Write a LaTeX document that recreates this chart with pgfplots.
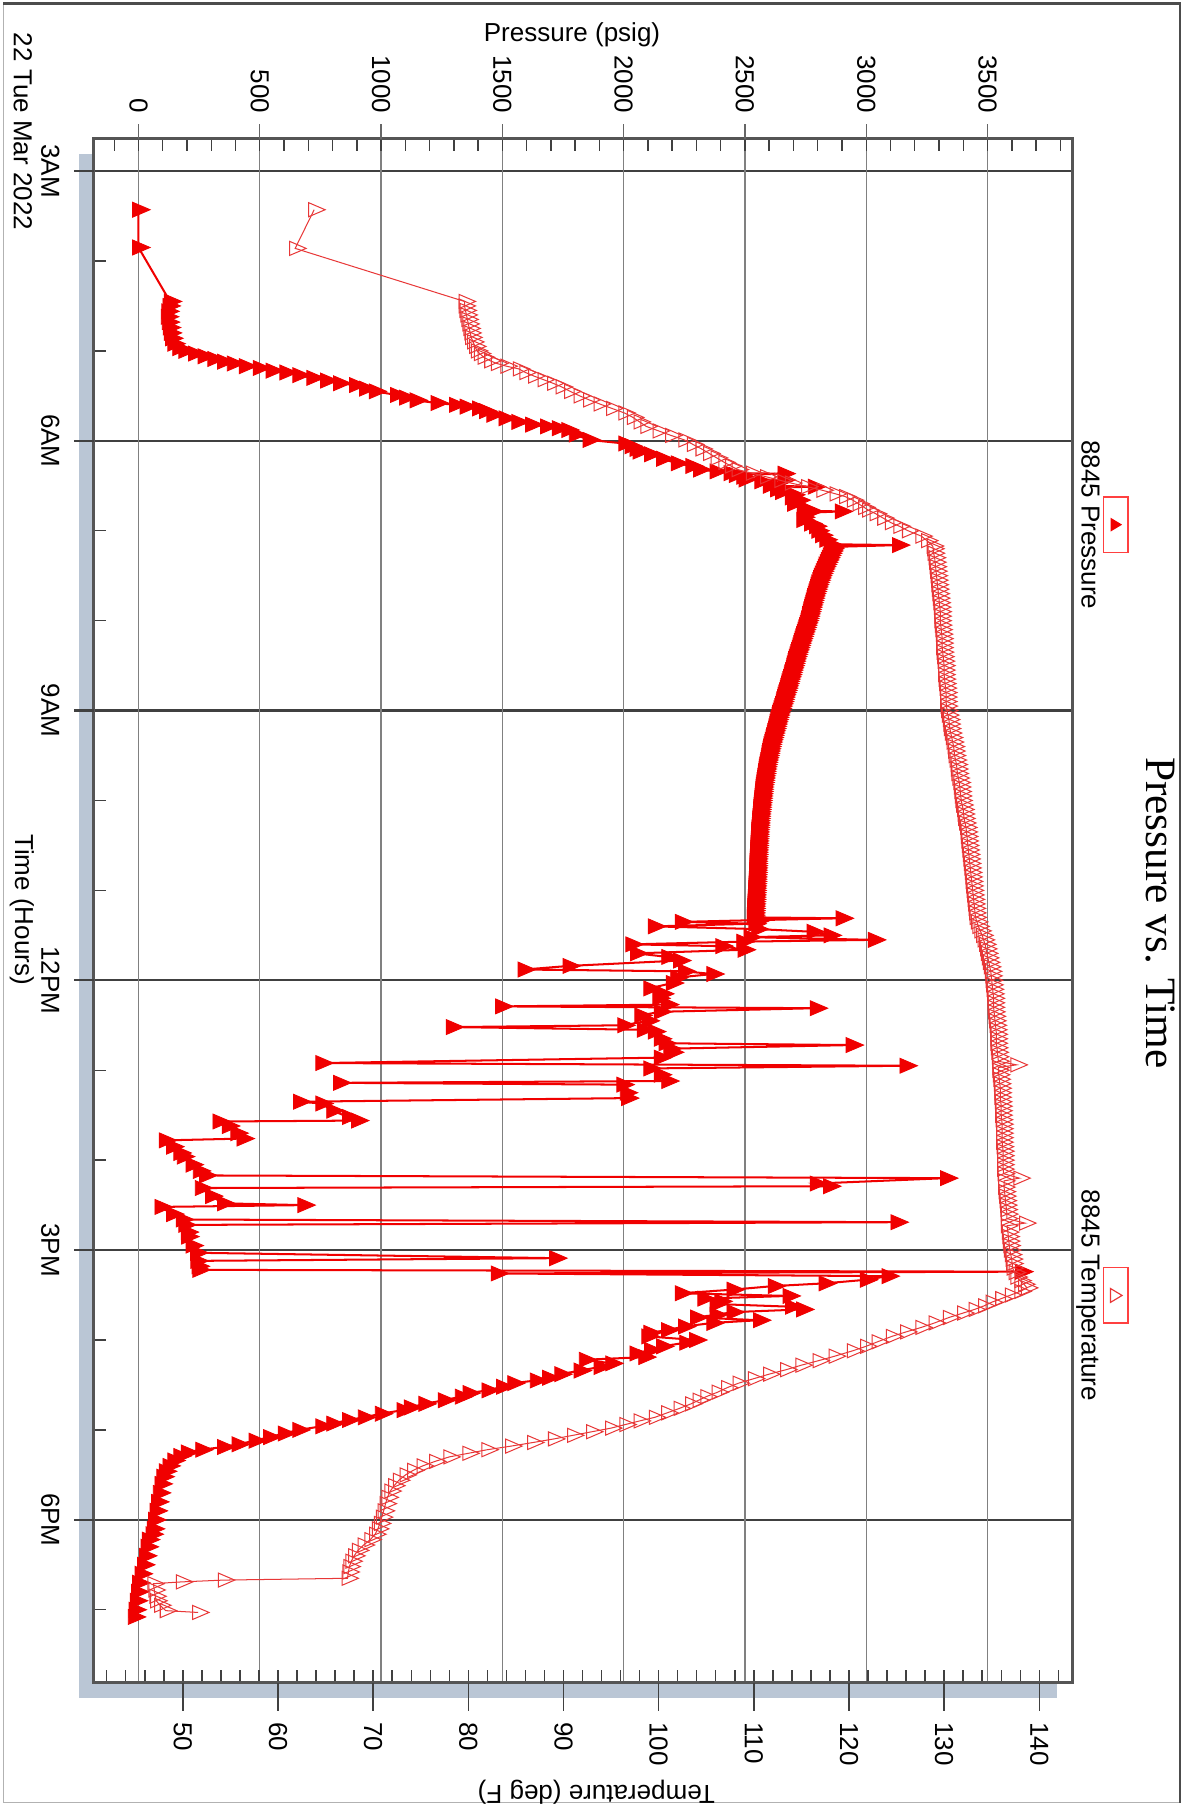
\documentclass[border=0pt]{standalone}
\usepackage{graphicx}
\usepackage{pgfplots}
\pgfplotsset{compat=1.18}
\usepackage{fontspec}
\setmainfont{Liberation Sans}
\newfontfamily\titlefont{Liberation Serif}
\definecolor{shadowc}{RGB}{186,198,213}
\definecolor{pres}{RGB}{240,0,0}
\definecolor{tempc}{RGB}{232,55,55}
\definecolor{framec}{RGB}{85,85,85}
\newsavebox\chartbox
\begin{document}
\begin{lrbox}{\chartbox}%
\begin{tikzpicture}
\useasboundingbox (0,0) rectangle (627.2pt,415.2pt);
\begin{scope}[x=0.4pt,y=0.4pt]
\draw[black!30, line width=0.5pt] (3,3) -- (1560,3) -- (1560,1021);
\draw[black!70, line width=0.8pt] (3,3) -- (3,1021) -- (1560,1021);
\fill[shadowc] (133,68) rectangle (1469,915);
\end{scope}
% ---------------- pressure axis ----------------
\begin{axis}[
  at={(48pt,32.4pt)}, anchor=south west,
  scale only axis, width=534.4pt, height=338.8pt,
  xmin=2.64, xmax=19.81, ymin=-185, ymax=3850,
  axis background/.style={fill=white},
  clip=false,
  xtick={3,6,9,12,15,18},
  xticklabels={3AM,6AM,9AM,12PM,3PM,6PM},
  minor xtick={4,5,7,8,10,11,13,14,16,17,19},
  ytick={0,500,...,3500},
  minor ytick={-100,0,...,3800},
  xtick pos=bottom, ytick pos=left,
  tick align=inside,
  major tick length=4.2pt, minor tick length=4.2pt,
  tick style={black!75, line width=0.5pt},
  xmajorgrids, ymajorgrids,
  major x grid style={black!75, line width=0.8pt},
  major y grid style={black!50, line width=0.5pt},
  axis line style={framec, line width=0.9pt},
  /pgf/number format/1000 sep={},
  /pgf/number format/assume math mode=true,
  ticklabel style={font=\fontsize{9}{10}\selectfont},
  yticklabel style={anchor=east, inner sep=0pt, xshift=-8.6pt},
  xticklabel style={anchor=north, inner sep=0pt, yshift=-11.6pt},
]
\pgfplotsinvokeforeach{3,6,9,12,15,18}{\draw[black!75, line width=0.8pt] (axis cs:#1,-185) -- ++(0pt,-6.8pt);}
\pgfplotsinvokeforeach{0,500,1000,1500,2000,2500,3000,3500}{\draw[black!60, line width=0.5pt] (axis cs:2.64,#1) -- ++(-5.2pt,0pt);}
\addplot[pres, line width=0.7pt, mark=triangle*, mark size=3.5pt,
  mark options={fill=pres, draw=pres, solid, line width=0.3pt, xscale=0.85, yscale=1.15}] table {
t P
3.43 0
3.85 0
4.45 130
4.50 125
4.56 120
4.62 118
4.68 122
4.74 126
4.80 130
4.86 136
4.92 145
4.97 165
5.00 190
5.03 230
5.06 270
5.09 310
5.12 350
5.14 390
5.17 440
5.19 497
5.22 550
5.24 607
5.27 660
5.30 718
5.33 775
5.36 828
5.38 894
5.42 935
5.45 975
5.49 1063
5.52 1100
5.55 1144
5.58 1230
5.60 1306
5.62 1350
5.64 1401
5.67 1430
5.71 1460
5.75 1510
5.79 1563
5.82 1620
5.84 1681
5.86 1730
5.88 1769
5.93 1800
5.99 1857
6.03 2004
6.06 2030
6.09 2050
6.12 2063
6.15 2110
6.20 2160
6.25 2220
6.28 2280
6.32 2312
6.34 2380
6.36 2438
6.365 2660
6.38 2460
6.40 2490
6.43 2500
6.435 2660
6.45 2565
6.50 2600
6.51 2785
6.52 2640
6.54 2630
6.57 2650
6.60 2700
6.63 2690
6.66 2722
6.70 2700
6.75 2740
6.78 2770
6.785 2896
6.80 2760
6.85 2740
6.88 2738
6.92 2770
6.95 2790
7.00 2800
7.05 2815
7.10 2833
7.15 2850
7.16 3132
7.18 2862
7.20 2860
7.225 2856
7.25 2852
7.275 2847
7.30 2843
7.325 2839
7.35 2835
7.375 2830
7.40 2826
7.425 2822
7.45 2818
7.475 2814
7.50 2810
7.525 2807
7.55 2804
7.575 2800
7.60 2797
7.625 2794
7.65 2791
7.675 2788
7.70 2785
7.725 2782
7.75 2780
7.775 2777
7.80 2775
7.825 2772
7.85 2770
7.875 2767
7.90 2765
7.925 2762
7.95 2760
7.975 2757
8.00 2755
8.025 2752
8.05 2749
8.075 2746
8.10 2743
8.125 2740
8.15 2737
8.175 2734
8.20 2731
8.225 2728
8.25 2725
8.275 2722
8.30 2719
8.325 2716
8.35 2713
8.375 2710
8.40 2707
8.425 2704
8.45 2702
8.475 2699
8.50 2697
8.525 2694
8.55 2691
8.575 2688
8.60 2686
8.625 2683
8.65 2680
8.675 2677
8.70 2675
8.725 2672
8.75 2670
8.775 2667
8.80 2664
8.825 2661
8.85 2658
8.875 2655
8.90 2653
8.925 2650
8.95 2647
8.975 2644
9.00 2641
9.025 2638
9.05 2636
9.075 2633
9.10 2631
9.125 2628
9.15 2626
9.175 2623
9.20 2621
9.225 2618
9.25 2616
9.275 2613
9.30 2611
9.325 2608
9.35 2606
9.375 2603
9.40 2601
9.425 2599
9.45 2597
9.475 2595
9.50 2593
9.525 2591
9.55 2589
9.575 2587
9.60 2585
9.625 2583
9.65 2582
9.675 2580
9.70 2579
9.725 2577
9.75 2576
9.775 2574
9.80 2573
9.825 2571
9.85 2570
9.875 2569
9.90 2568
9.925 2567
9.95 2566
9.975 2565
10.00 2564
10.025 2563
10.05 2562
10.075 2561
10.10 2560
10.125 2559
10.15 2558
10.175 2557
10.20 2556
10.225 2555
10.25 2555
10.275 2554
10.30 2553
10.325 2552
10.35 2552
10.375 2551
10.40 2551
10.425 2550
10.45 2550
10.475 2549
10.50 2549
10.525 2548
10.55 2548
10.575 2547
10.60 2547
10.625 2546
10.65 2546
10.675 2545
10.70 2545
10.725 2545
10.75 2545
10.775 2544
10.80 2544
10.825 2543
10.85 2543
10.875 2542
10.90 2542
10.925 2541
10.95 2541
10.975 2540
11.00 2540
11.025 2539
11.05 2539
11.075 2538
11.10 2538
11.125 2537
11.15 2537
11.175 2536
11.20 2536
11.225 2535
11.25 2535
11.275 2534
11.30 2534
11.31 2900
11.33 2560
11.35 2237
11.37 2540
11.40 2126
11.43 2550
11.46 2780
11.50 2850
11.52 2520
11.55 3033
11.57 2490
11.60 2033
11.62 2404
11.66 2496
11.70 2052
11.74 2181
11.78 2230
11.84 1774
11.88 1589
11.90 2250
11.93 2367
11.97 2218
12.03 2200
12.09 2107
12.15 2160
12.20 2144
12.27 2180
12.29 1496
12.31 2793
12.35 2150
12.39 2070
12.45 2100
12.50 2000
12.52 1293
12.55 2080
12.57 2126
12.65 2150
12.70 2170
12.72 2941
12.76 2190
12.80 2200
12.86 2150
12.92 755
12.95 3163
12.98 2107
13.05 2150
13.12 2181
13.14 828
13.16 1996
13.25 2010
13.31 2015
13.35 663
13.37 755
13.45 800
13.52 865
13.56 902
13.57 331
13.62 370
13.70 405
13.76 430
13.78 110
13.85 140
13.92 170
13.96 184
14.05 220
14.12 250
14.17 276
14.20 3330
14.26 2793
14.29 2848
14.31 258
14.40 300
14.48 350
14.50 681
14.52 92
14.60 140
14.66 180
14.69 3126
14.72 190
14.80 200
14.85 202
14.95 220
15.03 239
15.09 1719
15.12 240
15.18 245
15.22 248
15.24 3640
15.26 1478
15.29 3089
15.33 3000
15.37 2830
15.40 2620
15.44 2450
15.48 2237
15.51 2681
15.54 2330
15.57 2400
15.60 2380
15.63 2691
15.66 2737
15.69 2450
15.72 2380
15.75 2300
15.78 2559
15.81 2367
15.85 2250
15.89 2180
15.92 2107
15.96 2099
16.00 2296
16.03 2255
16.07 2160
16.11 2110
16.15 2050
16.19 2086
16.22 1841
16.26 1950
16.30 1902
16.34 1820
16.38 1740
16.42 1690
16.45 1639
16.48 1546
16.52 1500
16.56 1440
16.59 1362
16.63 1330
16.67 1260
16.71 1180
16.75 1120
16.78 1090
16.82 1000
16.86 930
16.89 865
16.93 800
16.96 755
17.00 660
17.04 600
17.08 540
17.12 480
17.16 410
17.19 350
17.22 260
17.25 200
17.29 170
17.34 145
17.40 125
17.46 110
17.52 100
17.60 92
17.70 85
17.80 78
17.90 72
18.00 66
18.10 60
18.16 55
18.22 40
18.30 35
18.40 28
18.50 20
18.60 10
18.70 0
18.80 -5
18.90 -10
19.00 -15
19.08 -18
};
\end{axis}
% ---------------- temperature axis ----------------
\begin{axis}[
  at={(48pt,32.4pt)}, anchor=south west,
  scale only axis, width=534.4pt, height=338.8pt,
  xmin=2.64, xmax=19.81, ymin=40.62, ymax=143.48,
  clip=false,
  axis x line=none,
  axis y line*=right,
  ytick={50,60,...,140},
  minor ytick={42,44,...,142},
  tick align=inside,
  major tick length=4.2pt, minor tick length=4.2pt,
  tick style={black!75, line width=0.5pt},
  axis line style={framec, line width=0.9pt},
  /pgf/number format/assume math mode=true,
  ticklabel style={font=\fontsize{9}{10}\selectfont},
  yticklabel style={anchor=west, inner sep=0pt, xshift=13.6pt},
]
\pgfplotsinvokeforeach{50,60,70,80,90,100,110,120,130,140}{\draw[black!75, line width=0.5pt] (axis cs:19.81,#1) -- ++(9.8pt,0pt);}
\addplot[tempc, line width=0.35pt, mark=triangle, mark size=3.3pt,
  mark options={draw=tempc, solid, line width=0.35pt, xscale=0.85, yscale=1.15}] table {
t T
3.43 63.8
3.86 61.8
4.45 79.6
4.50 79.6
4.55 79.7
4.60 79.8
4.65 79.9
4.70 80.0
4.75 80.1
4.80 80.2
4.85 80.3
4.90 80.5
4.95 80.7
5.00 80.9
5.03 81.2
5.07 81.6
5.11 82.3
5.14 83.0
5.17 84.0
5.20 85.3
5.24 86.0
5.28 86.9
5.32 87.9
5.36 88.9
5.40 89.8
5.45 90.7
5.50 91.7
5.545 92.7
5.59 93.8
5.64 95.1
5.69 96.4
5.74 97.3
5.79 98.0
5.84 98.7
5.89 100.0
5.94 101.3
5.99 102.7
6.04 103.6
6.09 104.5
6.14 105.3
6.19 106.1
6.24 106.9
6.28 107.6
6.32 108.3
6.36 109.8
6.40 111.3
6.44 112.8
6.47 113.9
6.51 115.6
6.55 117.2
6.59 118.6
6.62 119.6
6.66 120.4
6.70 121.0
6.74 121.6
6.77 122.0
6.81 122.8
6.86 123.6
6.91 124.4
6.95 125.3
7.00 126.2
7.06 127.6
7.11 128.2
7.17 128.8
7.20 128.85
7.25 128.9
7.30 129.0
7.35 129.05
7.40 129.1
7.45 129.15
7.50 129.2
7.55 129.25
7.60 129.3
7.65 129.35
7.70 129.4
7.75 129.45
7.80 129.5
7.85 129.55
7.90 129.6
7.95 129.6
8.00 129.6
8.05 129.65
8.10 129.7
8.15 129.75
8.20 129.8
8.25 129.8
8.30 129.8
8.35 129.85
8.40 129.9
8.45 129.95
8.50 130.0
8.55 130.0
8.60 130.0
8.65 130.05
8.70 130.1
8.75 130.15
8.80 130.2
8.85 130.2
8.90 130.2
8.95 130.25
9.00 130.3
9.05 130.4
9.10 130.5
9.15 130.55
9.20 130.6
9.25 130.7
9.30 130.8
9.35 130.9
9.40 131.0
9.45 131.05
9.50 131.1
9.55 131.2
9.60 131.3
9.65 131.35
9.70 131.4
9.75 131.5
9.80 131.6
9.85 131.65
9.90 131.7
9.95 131.75
10.00 131.8
10.05 131.9
10.10 132.0
10.15 132.05
10.20 132.1
10.25 132.2
10.30 132.3
10.35 132.35
10.40 132.4
10.45 132.45
10.50 132.5
10.55 132.55
10.60 132.6
10.65 132.65
10.70 132.7
10.75 132.75
10.80 132.8
10.85 132.85
10.90 132.9
10.95 132.95
11.00 133.0
11.05 133.05
11.10 133.1
11.15 133.15
11.20 133.2
11.25 133.25
11.30 133.3
11.35 133.45
11.40 133.6
11.45 133.8
11.50 134.0
11.55 134.15
11.60 134.3
11.65 134.4
11.70 134.5
11.75 134.6
11.80 134.7
11.85 134.8
11.90 134.9
11.95 134.95
12.00 135.0
12.05 135.05
12.10 135.1
12.15 135.15
12.20 135.2
12.25 135.2
12.30 135.2
12.35 135.25
12.40 135.3
12.45 135.35
12.50 135.4
12.55 135.45
12.60 135.5
12.65 135.5
12.70 135.5
12.75 135.55
12.80 135.6
12.85 135.65
12.90 135.7
12.94 137.6
12.97 135.7
13.00 135.7
13.05 135.75
13.10 135.8
13.15 135.85
13.20 135.9
13.25 135.9
13.30 135.9
13.35 135.95
13.40 136.0
13.45 136.0
13.50 136.0
13.55 136.05
13.60 136.1
13.65 136.1
13.70 136.1
13.75 136.1
13.80 136.1
13.85 136.15
13.90 136.2
13.95 136.2
14.00 136.2
14.05 136.2
14.10 136.2
14.15 136.25
14.20 137.9
14.23 136.3
14.30 136.3
14.35 136.35
14.40 136.4
14.45 136.45
14.50 136.5
14.55 136.55
14.60 136.6
14.65 136.6
14.70 138.5
14.73 136.6
14.80 136.7
14.85 136.75
14.90 136.8
14.95 136.85
15.00 136.9
15.05 137.0
15.10 137.1
15.15 137.15
15.20 137.2
15.25 137.4
15.30 137.6
15.34 138.0
15.38 138.4
15.42 138.7
15.46 138.0
15.50 137.0
15.54 136.0
15.58 135.0
15.62 134.2
15.66 133.2
15.70 132.0
15.75 130.5
15.81 129.0
15.86 127.6
15.91 126.0
15.96 124.5
16.02 123.0
16.07 121.8
16.12 120.4
16.18 118.5
16.23 116.8
16.28 115.0
16.33 113.4
16.38 111.6
16.43 110.0
16.48 108.4
16.53 107.2
16.58 106.2
16.63 105.0
16.67 104.2
16.71 103.4
16.76 102.2
16.81 100.9
16.86 99.6
16.90 98.0
16.94 96.5
16.98 95.0
17.02 93.0
17.06 91.0
17.10 89.0
17.14 86.8
17.18 84.5
17.22 82.0
17.26 80.0
17.30 78.0
17.35 76.5
17.40 75.2
17.45 74.2
17.50 73.4
17.56 72.7
17.62 72.2
17.68 71.8
17.75 71.5
17.82 71.3
17.90 71.1
17.97 70.9
18.04 70.7
18.10 70.5
18.16 70.2
18.22 69.7
18.28 69.0
18.34 68.4
18.40 68.0
18.46 67.7
18.52 67.5
18.58 67.4
18.65 67.3
18.67 54.3
18.69 49.9
18.71 46.9
18.78 47.0
18.85 47.1
18.90 47.2
18.95 47.6
19.01 48.2
19.03 51.6
};
\end{axis}
% ---------------- texts and legend ----------------
\begin{scope}[x=0.4pt,y=0.4pt, every node/.style={font=\fontsize{9}{10}\selectfont, inner sep=0pt}]
\node[anchor=base] at (787,13) {Time (Hours)};
\node[anchor=base west] at (28,12) {22 Tue Mar 2022};
\node[rotate=90, anchor=base] at (36,495) {Pressure (psig)};
\node[rotate=-90, anchor=base] at (1545,516) {Temperature (deg F)};
\node[anchor=base, font=\titlefont\fontsize{15}{18}\selectfont] at (790,992) {Pressure vs. Time};
\node[anchor=base] at (454,936) {8845 Pressure};
\draw[red!75, line width=0.5pt] (430,955) rectangle (478,976);
\fill[pres] (448,961) -- (460,961) -- (454,971) -- cycle;
\node[anchor=base] at (1121,936) {8845 Temperature};
\draw[red!75, line width=0.5pt] (1097,955) rectangle (1145,976);
\draw[tempc, line width=0.4pt] (1115,961) -- (1127,961) -- (1121,971) -- cycle;
\end{scope}
\end{tikzpicture}%
\end{lrbox}%
\rotatebox{-90}{\usebox\chartbox}
\end{document}
